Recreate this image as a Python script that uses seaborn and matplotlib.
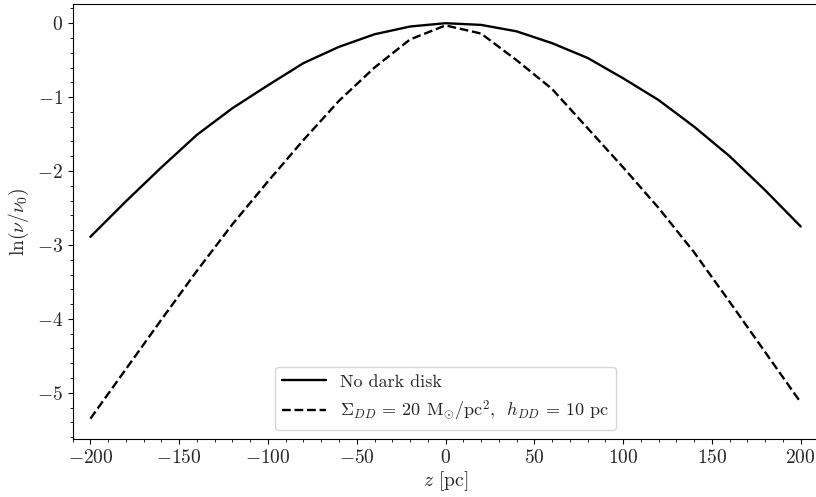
import numpy as np
import pandas as pd
import matplotlib
matplotlib.use("Agg")
import matplotlib.pyplot as plt
import seaborn as sns
from matplotlib.ticker import MultipleLocator

z_pc = [-200, -180, -160, -140, -120, -100, -80, -60, -40, -20, 0,
        20, 40, 60, 80, 100, 120, 140, 160, 180, 200]
no_dark_disk = [-2.89, -2.41, -1.95, -1.51, -1.15, -0.84, -0.54, -0.32, -0.15, -0.045, 0.0,
                -0.023, -0.11, -0.27, -0.47, -0.745, -1.04, -1.40, -1.80, -2.26, -2.75]
dark_disk = [-5.35, -4.68, -4.01, -3.35, -2.72, -2.14, -1.58, -1.05, -0.60, -0.22, -0.03,
             -0.14, -0.50, -0.89, -1.42, -1.95, -2.50, -3.10, -3.77, -4.45, -5.13]

label_solid = "No dark disk"
label_dashed = r"$\Sigma_{DD}$ = 20 M$_{\odot}$/pc$^2$,  $h_{DD}$ = 10 pc"

sns.set_style("ticks")
plt.rcParams["font.family"] = "serif"
plt.rcParams["font.serif"] = ["cmr10"]
plt.rcParams["mathtext.fontset"] = "cm"
plt.rcParams["axes.formatter.use_mathtext"] = True
plt.rcParams["axes.unicode_minus"] = True

df = pd.DataFrame({"z": z_pc, "solid": no_dark_disk, "dashed": dark_disk})

fig = plt.figure(figsize=(8.16, 4.97), dpi=100)
ax = fig.add_axes([0.089, 0.1167, 0.914, 0.8753])

sns.lineplot(data=df, x="z", y="solid", ax=ax, color="black", lw=1.7, label=label_solid)
sns.lineplot(data=df, x="z", y="dashed", ax=ax, color="black", lw=1.7, ls="--", label=label_dashed)

ax.set_xlim(-210, 210)
ax.set_ylim(-5.625, 0.26)
ax.xaxis.set_major_locator(MultipleLocator(50))
ax.xaxis.set_minor_locator(MultipleLocator(10))
ax.yaxis.set_major_locator(MultipleLocator(1))
ax.yaxis.set_minor_locator(MultipleLocator(0.2))
ax.tick_params(axis="both", which="major", labelsize=14, length=3.5, width=0.8, color="black")
ax.tick_params(axis="both", which="minor", length=2, width=0.6, color="black")
for s in ax.spines.values():
    s.set_color("black")
    s.set_linewidth(0.8)
ax.spines["right"].set_visible(False)

ax.set_xlabel(r"$z$ [pc]", fontsize=14, labelpad=2)
ax.set_ylabel(r"$\ln(\nu/\nu_0)$", fontsize=14, labelpad=4)
ax.legend(loc="lower center", fontsize=13, frameon=True, handlelength=2.4)

fig.savefig("out.png", dpi=100)
